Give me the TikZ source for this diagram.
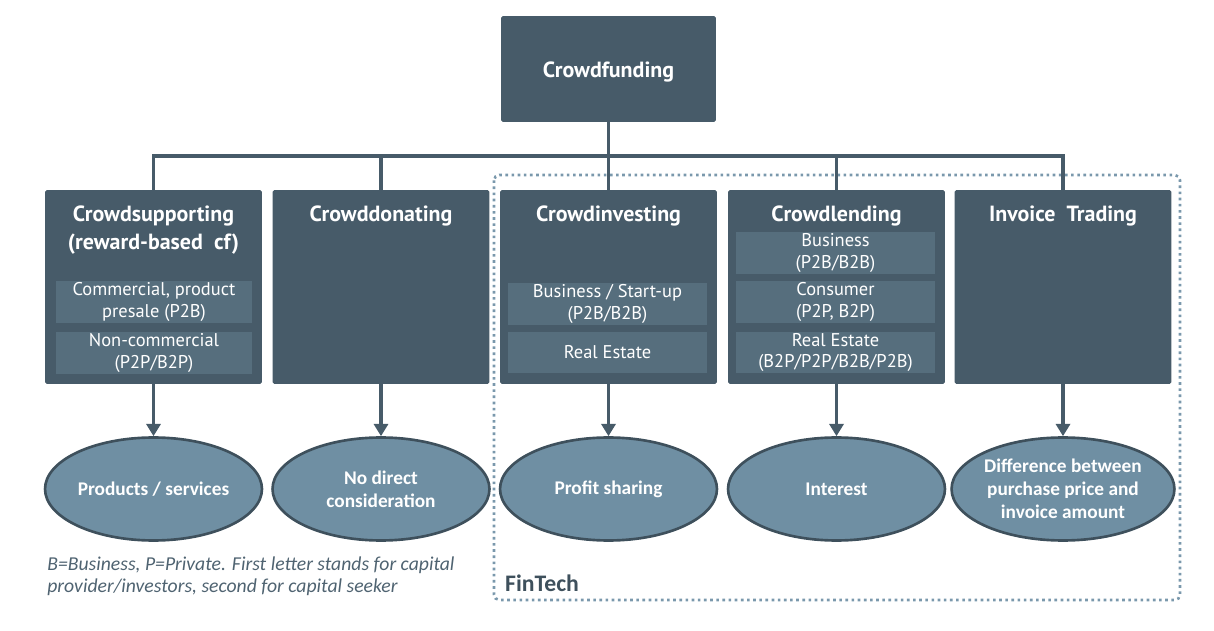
\documentclass[tikz,border=0pt]{standalone}
\usepackage{fontspec}
\setmainfont{Carlito}
\newfontfamily\boxfont{PT Sans}
\usetikzlibrary{positioning,shapes.geometric,arrows.meta}

\definecolor{slate}{HTML}{475B69}
\definecolor{slatelight}{HTML}{566E7D}
\definecolor{steel}{HTML}{6F8FA3}
\definecolor{steeldark}{HTML}{3E505C}
\definecolor{dotblue}{HTML}{7A98AC}
\definecolor{notegray}{HTML}{4F6371}

\begin{document}
\begin{tikzpicture}[x=0.02cm, y=-0.02cm]

  \tikzstyle{kind} = [fill=slate, rounded corners=1pt, inner sep=0, minimum width=4.34cm, minimum height=3.88cm]
  \tikzstyle{title} = [text=white, font=\boxfont\bfseries\fontsize{12.5}{15.5}\selectfont, align=center]
  \tikzstyle{sub} = [fill=slatelight, text=white, inner sep=0, minimum height=0.84cm, font=\boxfont\fontsize{10.5}{12}\selectfont, align=center]
  \tikzstyle{reward} = [ellipse, fill=steel, draw=steeldark, line width=1.5pt, inner sep=0, minimum width=4.34cm, minimum height=2.06cm, text=white, font=\bfseries\fontsize{11}{13}\selectfont, align=center]
  \tikzstyle{link} = [slate, line width=1.8pt]

  \useasboundingbox (0,0) rectangle (1214,631);

  % FinTech frame
  \draw[dotblue, dotted, line width=1.5pt, rounded corners=3pt] (494,175) rectangle (1180,600);
  \node[anchor=base west, text=steeldark, font=\bfseries\fontsize{13.5}{16}\selectfont] (fintech) at (499,591) {FinTech};

  % top
  \node[fill=slate, rounded corners=1pt, minimum width=4.3cm, minimum height=2.12cm, inner sep=0] (cf) at (608.5,69) {};
  \node[title] (cft) at (608.5,72) {Crowdfunding};

  % second row
  \node[kind] (supp) at (153.5,287) {};
  \node[kind] (don) at (381,287) {};
  \node[kind] (inv) at (608.5,287) {};
  \node[kind] (lend) at (836.5,287) {};
  \node[kind] (trade) at (1063,287) {};

  \node[title] (suppt) at (153.5,230) {Crowdsupporting\\(reward-based\ \ cf)};
  \node[title] (dont) at (381,216) {Crowddonating};
  \node[title] (invt) at (608.5,216) {Crowdinvesting};
  \node[title] (lendt) at (836.5,216) {Crowdlending};
  \node[title] (tradet) at (1063,216) {Invoice\ \ Trading};

  \node[sub, minimum width=3.92cm] (supp1) at (154,302) {Commercial, product\\presale (P2B)};
  \node[sub, minimum width=3.92cm] (supp2) at (154,353) {Non-commercial\\(P2P/B2P)};

  \node[sub, minimum width=3.98cm] (inv1) at (607.5,304) {Business / Start-up\\(P2B/B2B)};
  \node[sub, minimum width=3.98cm] (inv2) at (607.5,352.5) {Real Estate};

  \node[sub, minimum width=3.98cm] (lend1) at (835.5,253) {Business\\(P2B/B2B)};
  \node[sub, minimum width=3.98cm] (lend2) at (835.5,302) {Consumer\\(P2P, B2P)};
  \node[sub, minimum width=3.98cm] (lend3) at (835.5,352.5) {Real Estate\\(B2P/P2P/B2B/P2B)};

  % rewards
  \node[reward] (prod) at (153.5,489) {Products / services};
  \node[reward] (none) at (381,489) {No direct\\consideration};
  \node[reward] (profit) at (608.5,489) {Profit sharing};
  \node[reward] (interest) at (836.5,489) {Interest};
  \node[reward] (diff) at (1063,489) {Difference between\\purchase price and\\invoice amount};

  % tree
  \coordinate (bus) at (608.5,156);
  \draw[link] (cf.south) -- (bus);
  \draw[link] (supp.north) |- (bus) -| (trade.north);
  \draw[link] (don.north) -- (don.north |- bus);
  \draw[link] (inv.north) -- (inv.north |- bus);
  \draw[link] (lend.north) -- (lend.north |- bus);

  \foreach \a/\b in {supp/prod, don/none, inv/profit, lend/interest, trade/diff}
    \draw[link, -{Triangle[length=7pt, width=8pt]}] (\a.south) -- (\b.north);

  % note
  \node[anchor=north west, text=notegray, align=left, font=\itshape\fontsize{11.2}{12.6}\selectfont, inner sep=0] (note) at (47,556)
    {B=Business, P=Private. First letter stands for capital\\provider/investors, second for capital seeker};

\end{tikzpicture}
\end{document}
